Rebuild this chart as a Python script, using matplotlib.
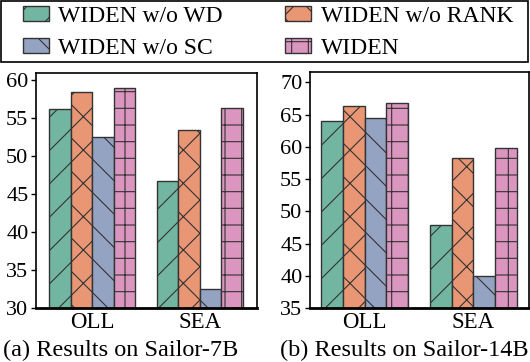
import colorsys
import numpy as np
import matplotlib
matplotlib.use("Agg")
import matplotlib.pyplot as plt
from matplotlib.colors import to_rgb
from matplotlib.patches import Rectangle

plt.rcParams['font.family'] = ['Liberation Serif', 'DejaVu Serif']
plt.rcParams['hatch.linewidth'] = 0.8

# datos
grupos = ['OLL', 'SEA']
series = ['WIDEN w/o WD', 'WIDEN w/o RANK', 'WIDEN w/o SC', 'WIDEN']
sailor7b = [[56.2, 46.8], [58.45, 53.4], [52.5, 32.5], [59.0, 56.3]]
sailor14b = [[64.05, 47.9], [66.4, 58.2], [64.4, 39.95], [66.85, 59.8]]
paleta = ['#66c2a5', '#fc8d62', '#8da0cb', '#e78ac3']
tramas = ['/', 'x', '\\', '+']


# colores algo desaturados (como la saturacion 0.75 de seaborn)
def desaturar(c, prop=0.75):
    h, l, s = colorsys.rgb_to_hls(*to_rgb(c))
    return colorsys.hls_to_rgb(h, l, s * prop)


colores = [desaturar(c) for c in paleta]

fig = plt.figure(figsize=(5.3, 3.62), dpi=100)
ax1 = fig.add_axes([0.068, 0.149, 0.417, 0.650])
ax2 = fig.add_axes([0.585, 0.149, 0.413, 0.652])

ancho = 0.2
x = np.arange(len(grupos))


def dibujar(ax, datos, ylim, yticks, xlim):
    for i, vals in enumerate(datos):
        ax.bar(x + (i - 1.5) * ancho, vals, ancho, color=colores[i],
               edgecolor='#333333', linewidth=1.0,
               hatch=tramas[i], label=series[i], zorder=2)
    ax.set_ylim(*ylim)
    ax.set_xlim(*xlim)
    ax.set_yticks(yticks)
    ax.set_xticks(x)
    ax.set_xticklabels(grupos)
    ax.tick_params(axis='x', length=0, labelsize=16.5, pad=3)
    ax.tick_params(axis='y', length=3.5, width=1.0, labelsize=16, pad=2)
    for s in ax.spines.values():
        s.set_linewidth(1.2)
    ax.spines['bottom'].set_linewidth(2.0)


dibujar(ax1, sailor7b, (30, 61), np.arange(30, 61, 5), (-0.52, 1.53))
dibujar(ax2, sailor14b, (35, 71.6), np.arange(35, 71, 5), (-0.5, 1.51))

# subtitulos
fig.text(121 / 530, 1 - 350 / 362, '(a) Results on Sailor-7B', fontsize=17.5,
         ha='center', va='center')
fig.text(404 / 530, 1 - 350 / 362, '(b) Results on Sailor-14B', fontsize=17.5,
         ha='center', va='center')

# leyenda: filas WD/RANK y SC/WIDEN
h, l = ax1.get_legend_handles_labels()
orden = [0, 2, 1, 3]
fig.legend([h[i] for i in orden], [l[i] for i in orden], loc='upper left',
           bbox_to_anchor=(23 / 530, 1 - 6 / 362), ncol=2, fontsize=17,
           frameon=False, handlelength=1.1, handleheight=0.6,
           handletextpad=0.4, labelspacing=0.45, columnspacing=2.63,
           borderpad=0.0, borderaxespad=0.0)
fig.patches.append(Rectangle((1 / 530, 1 - 62 / 362), 527 / 530, 61 / 362,
                             transform=fig.transFigure, fill=False,
                             edgecolor='black', linewidth=1.2))

plt.savefig('out.png', dpi=100)
